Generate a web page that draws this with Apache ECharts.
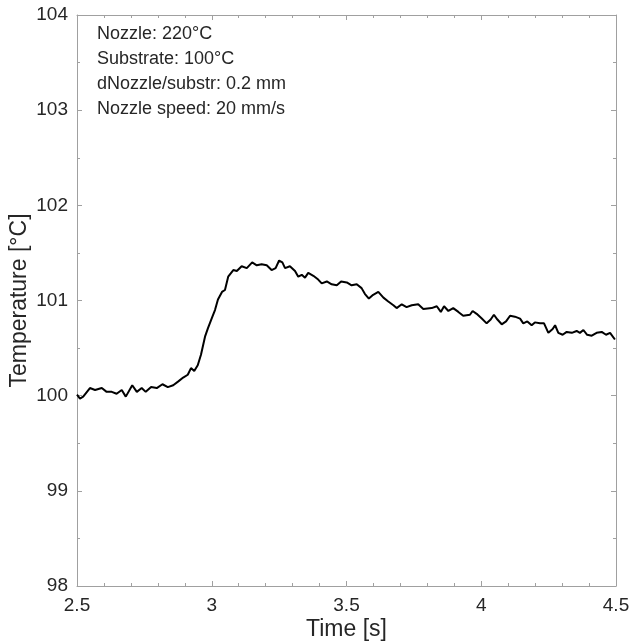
<!DOCTYPE html>
<html>
<head>
<meta charset="utf-8">
<script src="https://cdn.jsdelivr.net/npm/echarts@6/dist/echarts.min.js"></script>
<style>html,body{margin:0;padding:0;background:#fff}#c{width:632px;height:644px}</style>
</head>
<body>
<div id="c"></div>
<script>
const timeS = [2.500,2.511,2.523,2.548,2.567,2.592,2.610,2.629,2.647,2.666,2.681,2.705,2.722,2.740,2.755,2.775,2.796,2.817,2.837,2.857,2.876,2.894,2.911,2.923,2.935,2.948,2.960,2.975,2.986,3.001,3.012,3.023,3.038,3.049,3.061,3.080,3.093,3.111,3.130,3.150,3.167,3.185,3.204,3.222,3.237,3.250,3.262,3.272,3.290,3.309,3.321,3.334,3.346,3.358,3.377,3.395,3.408,3.427,3.445,3.464,3.480,3.501,3.519,3.538,3.556,3.568,3.583,3.599,3.618,3.637,3.655,3.674,3.686,3.705,3.723,3.742,3.766,3.785,3.816,3.835,3.850,3.862,3.878,3.896,3.915,3.933,3.958,3.968,3.983,4.002,4.020,4.035,4.047,4.060,4.076,4.092,4.107,4.125,4.144,4.156,4.171,4.187,4.199,4.218,4.233,4.249,4.265,4.274,4.286,4.302,4.317,4.336,4.354,4.366,4.379,4.393,4.410,4.428,4.447,4.463,4.478,4.496];
const tempC = [100.01,99.97,99.99,100.08,100.06,100.08,100.04,100.04,100.02,100.06,99.99,100.11,100.04,100.08,100.04,100.09,100.08,100.12,100.09,100.11,100.15,100.19,100.22,100.29,100.26,100.32,100.43,100.62,100.71,100.82,100.90,101.01,101.09,101.11,101.25,101.32,101.31,101.36,101.34,101.40,101.37,101.38,101.37,101.32,101.34,101.42,101.40,101.34,101.36,101.31,101.25,101.27,101.24,101.29,101.26,101.22,101.18,101.20,101.17,101.16,101.20,101.19,101.16,101.17,101.13,101.07,101.02,101.06,101.09,101.03,100.99,100.95,100.92,100.96,100.93,100.95,100.96,100.91,100.92,100.94,100.88,100.94,100.89,100.92,100.88,100.84,100.85,100.89,100.86,100.81,100.76,100.80,100.85,100.80,100.75,100.78,100.84,100.83,100.81,100.76,100.78,100.74,100.77,100.76,100.76,100.66,100.70,100.74,100.66,100.64,100.67,100.66,100.68,100.66,100.69,100.64,100.63,100.66,100.67,100.64,100.66,100.59];
const notes = ["Nozzle: 220°C","Substrate: 100°C","dNozzle/substr: 0.2 mm","Nozzle speed: 20 mm/s"];

const chart = echarts.init(document.getElementById('c'));
const axisCol = '#a0a0a0';
const txtCol = '#262626';
const font = 'Liberation Sans, Arial, sans-serif';
const baseAxis = {
  axisLine:{show:true,onZero:false,lineStyle:{color:axisCol,width:1}},
  axisTick:{show:true,inside:true,length:5,lineStyle:{color:axisCol}},
  splitLine:{show:false}
};
chart.setOption({
  animation:false,
  grid:{left:77,right:16,top:15,bottom:58,containLabel:false,outerBoundsMode:'none'},
  xAxis:[
    Object.assign({type:'value',min:2.5,max:4.5,interval:0.5,position:'bottom',
      name:'Time [s]',nameLocation:'middle',nameGap:32,nameMoveOverlap:false,
      nameTextStyle:{color:txtCol,fontSize:23,fontFamily:font},
      axisLabel:{color:txtCol,fontSize:19,fontFamily:font,margin:10}},baseAxis,
      {minorTick:{show:true,splitNumber:5,length:3,lineStyle:{color:axisCol}}}),
    Object.assign({type:'value',min:2.5,max:4.5,interval:0.5,position:'top',
      axisLabel:{show:false}},baseAxis,
      {minorTick:{show:true,splitNumber:5,length:3,lineStyle:{color:axisCol}}})
  ],
  yAxis:[
    Object.assign({type:'value',min:98,max:104,interval:1,position:'left',
      name:'Temperature [°C]',nameLocation:'middle',nameGap:46,nameMoveOverlap:false,
      nameTextStyle:{color:txtCol,fontSize:23,fontFamily:font},
      axisLabel:{color:txtCol,fontSize:19,fontFamily:font,margin:9}},baseAxis,
      {minorTick:{show:true,splitNumber:2,length:3,lineStyle:{color:axisCol}}}),
    Object.assign({type:'value',min:98,max:104,interval:1,position:'right',
      axisLabel:{show:false}},baseAxis,
      {minorTick:{show:true,splitNumber:2,length:3,lineStyle:{color:axisCol}}})
  ],
  series:[{
    type:'line',showSymbol:false,symbol:'none',
    lineStyle:{color:'#000',width:2},
    data:timeS.map((t,i)=>[t,tempC[i]])
  }],
  graphic: notes.map((s,i)=>({
    type:'text',left:97,top:25+i*25,
    style:{text:s,fill:txtCol,font:'18px '+font}
  }))
});
</script>
</body>
</html>
